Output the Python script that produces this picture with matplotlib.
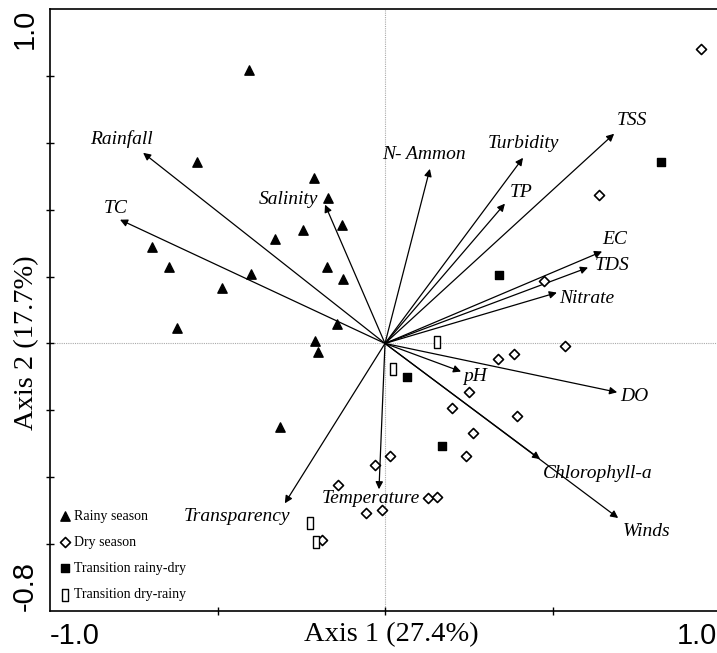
import numpy as np
import matplotlib
matplotlib.use('Agg')
import matplotlib.pyplot as plt
from matplotlib.path import Path

# --- variable loadings (arrow tips) ---
var_names = ['Rainfall', 'TC', 'Salinity', 'N- Ammon', 'Turbidity', 'TP', 'TSS',
             'EC', 'TDS', 'Nitrate', 'pH', 'DO', 'Chlorophyll-a', 'Winds',
             'Temperature', 'Transparency']
var_x = [-0.722, -0.791, -0.179, 0.134, 0.412, 0.358, 0.684,
         0.648, 0.606, 0.513, 0.227, 0.693, 0.463, 0.696, -0.018, -0.299]
var_y = [0.570, 0.370, 0.415, 0.522, 0.555, 0.418, 0.627,
         0.275, 0.227, 0.152, -0.084, -0.146, -0.346, -0.522, -0.436, -0.478]

# --- sample scores ---
rainy_x = [-0.406, -0.561, -0.212, -0.170, -0.128, -0.245, -0.328, -0.696, -0.645,
           -0.400, -0.173, -0.125, -0.487, -0.621, -0.143, -0.209, -0.200, -0.313]
rainy_y = [0.818, 0.543, 0.496, 0.436, 0.355, 0.340, 0.313, 0.287, 0.230,
           0.209, 0.230, 0.194, 0.167, 0.045, 0.057, 0.006, -0.027, -0.251]

dry_x = [0.943, 0.639, 0.475, 0.537, 0.337, 0.385, 0.251, 0.200, 0.394, 0.263,
         0.242, 0.015, -0.030, -0.140, -0.057, -0.009, 0.128, 0.155, -0.188]
dry_y = [0.881, 0.445, 0.188, -0.009, -0.048, -0.033, -0.146, -0.194, -0.218, -0.269,
         -0.337, -0.337, -0.364, -0.424, -0.507, -0.499, -0.463, -0.460, -0.588]

trd_x = [0.824, 0.340, 0.066, 0.170]
trd_y = [0.543, 0.206, -0.099, -0.307]

tdr_x = [0.155, 0.024, -0.224, -0.206]
tdr_y = [0.003, -0.075, -0.537, -0.594]

# label offsets from arrow tips, in pixels
label_dx = [-22, -4, -37, -6, 0, 16, 18, 13, 24, 30, 14, 17, 58, 28, -8, -48]
label_dy = [14, 11, 5, 14, 14, 11, 13, 12, 2, -6, -5, -4, -14, -13, -9, -13]

serif = 'Liberation Serif'
sans = 'Liberation Sans'

fig = plt.figure(figsize=(7.17, 6.53), dpi=100)
ax = fig.add_axes([50 / 717, 42 / 653, 670 / 717, 602 / 653])
ax.set_xlim(-1.0, 1.0)
ax.set_ylim(-0.8, 1.0)

ax.axhline(0, color='#aaaaaa', lw=0.8, ls=(0, (1, 1)), zorder=0)
ax.axvline(0, color='#aaaaaa', lw=0.8, ls=(0, (1, 1)), zorder=0)

for name, x, y, dx, dy in zip(var_names, var_x, var_y, label_dx, label_dy):
    ax.annotate('', xy=(x, y), xytext=(0, 0),
                arrowprops=dict(arrowstyle='-|>', color='black', lw=0.9,
                                mutation_scale=11, shrinkA=0, shrinkB=0))
    ax.annotate(name, xy=(x, y), xytext=(dx, dy), textcoords='offset pixels',
                ha='center', va='center', fontsize=14, fontstyle='italic',
                family=serif)

rect = Path([(-0.45, -1), (0.45, -1), (0.45, 1), (-0.45, 1), (-0.45, -1)],
            [Path.MOVETO, Path.LINETO, Path.LINETO, Path.LINETO, Path.CLOSEPOLY])

ax.scatter(rainy_x, rainy_y, marker='^', s=45, c='black', zorder=3, label='Rainy season')
ax.scatter(dry_x, dry_y, marker='D', s=26, facecolors='white', edgecolors='black',
           linewidths=1.2, zorder=3, label='Dry season')
ax.scatter(trd_x, trd_y, marker='s', s=32, c='black', zorder=3, label='Transition rainy-dry')
ax.scatter(tdr_x, tdr_y, marker=rect, s=80, facecolors='white', edgecolors='black',
           linewidths=1.0, zorder=3, label='Transition dry-rainy')

ax.legend(loc='lower left', bbox_to_anchor=(-0.005, 0.0), frameon=False,
          prop={'family': serif, 'size': 10}, handletextpad=0.1,
          labelspacing=0.95, handlelength=1.2, borderaxespad=0.3)

# ticks: labels at the ends, tick marks along the axes
ax.set_xticks([-1.0, 0.99])
ax.set_xticklabels(['-1.0', '1.0'], fontsize=21, family=sans)
ax.set_xticks([-1.0, -0.5, 0.0, 0.5], minor=True)
ax.set_yticks([-0.8, 1.0])
ax.set_yticklabels(['-0.8', '1.0'], fontsize=21, family=sans, rotation=90)
ax.set_yticks(np.arange(-0.6, 0.81, 0.2), minor=True)
ax.tick_params(which='major', length=0, pad=8)
ax.tick_params(which='minor', length=6, direction='inout', width=1.0)
xt = ax.get_xticklabels()
xt[0].set_ha('left')
xt[1].set_ha('right')
yt = ax.get_yticklabels()
yt[0].set_va('bottom')
yt[1].set_va('top')

ax.set_xlabel('Axis 1 (27.4%)', fontsize=20.5, family=serif)
ax.set_ylabel('Axis 2 (17.7%)', fontsize=20.5, family=serif)
ax.xaxis.set_label_coords(0.509, -0.018)
ax.yaxis.set_label_coords(-0.016, 0.445)

for side in ['left', 'bottom', 'top']:
    ax.spines[side].set_linewidth(1.2)
ax.spines['right'].set_visible(False)

fig.savefig('out.png', dpi=100)
